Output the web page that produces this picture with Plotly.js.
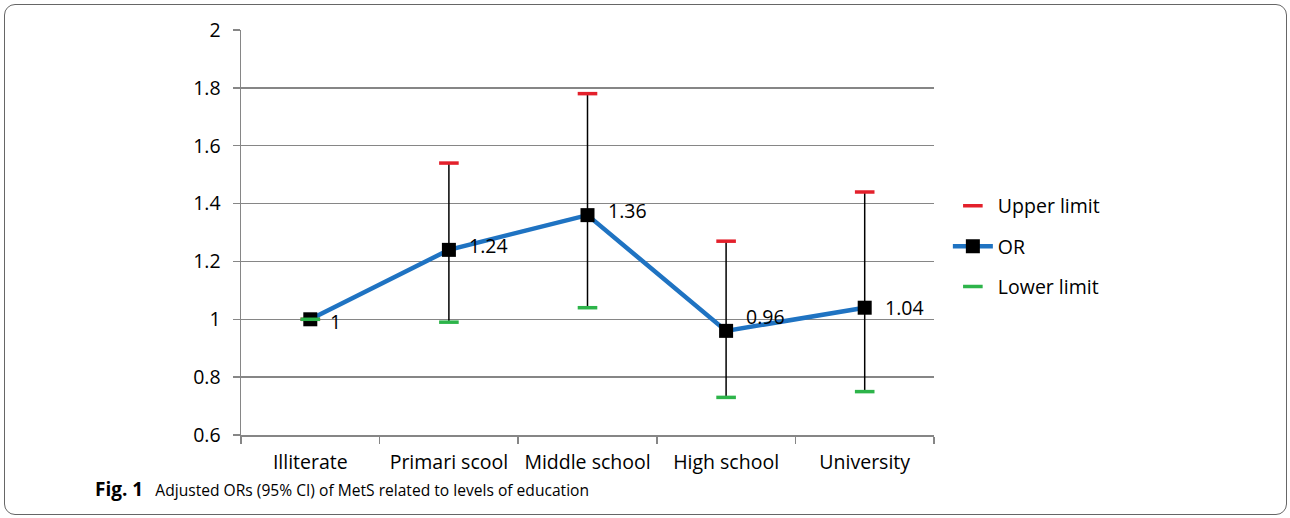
<!DOCTYPE html>
<html>
<head>
<meta charset="utf-8">
<script src="https://cdn.plot.ly/plotly-3.0.1.min.js"></script>
<style>
  html, body { margin: 0; padding: 0; background: #fff; }
  #wrap { position: relative; width: 1290px; height: 518px; }
  #frame {
    position: absolute; left: 4px; top: 4px; width: 1283px; height: 511px;
    border: 1.5px solid #666; border-radius: 11px; box-sizing: border-box;
    pointer-events: none;
  }
  #chart { position: absolute; left: 0; top: 0; width: 1290px; height: 518px; }
</style>
</head>
<body>
<div id="wrap">
  <div id="chart"></div>
  <div id="frame"></div>
</div>
<script>
// Education levels and adjusted odds ratios with 95% CI bounds
const categories = ["Illiterate", "Primari scool", "Middle school", "High school", "University"];
const orVals     = [1, 1.24, 1.36, 0.96, 1.04];
const upperVals  = [1, 1.54, 1.78, 1.27, 1.44];
const lowerVals  = [1, 0.99, 1.04, 0.73, 0.75];
const yTicks     = [0.6, 0.8, 1, 1.2, 1.4, 1.6, 1.8, 2];
// vertical offsets for the value labels (px)
const labelLift  = [-2, 4, 5, 14, 0];

const FONT = "'Open Sans', 'Noto Sans', sans-serif";
const SIZE = 19.5;

// high-low range lines, drawn underneath everything else
const rangeTrace = {
  x: categories,
  y: lowerVals,
  type: "scatter",
  mode: "markers",
  marker: { size: 1, color: "rgba(0,0,0,0)" },
  error_y: {
    type: "data",
    symmetric: false,
    array: upperVals.map((u, i) => u - lowerVals[i]),
    arrayminus: lowerVals.map(() => 0),
    color: "#000",
    thickness: 1.5,
    width: 0
  },
  showlegend: false,
  legendgroup: "u",
  hoverinfo: "skip"
};

const upperTrace = {
  x: categories,
  y: upperVals,
  name: "Upper limit",
  type: "scatter",
  mode: "markers",
  marker: { symbol: "line-ew", size: 14, line: { width: 3.5, color: "#e3202b" } },
  legendgroup: "u"
};

const orTrace = {
  x: categories,
  y: orVals,
  name: "OR",
  type: "scatter",
  mode: "lines+markers",
  line: { color: "#1f73c2", width: 4.5 },
  marker: { symbol: "square", size: 14, color: "#000" },
  legendgroup: "o"
};

const lowerTrace = {
  x: categories,
  y: lowerVals,
  name: "Lower limit",
  type: "scatter",
  mode: "markers",
  marker: { symbol: "line-ew", size: 14, line: { width: 3.5, color: "#2db44a" } },
  legendgroup: "l"
};

const valueLabels = orVals.map((v, i) => ({
  x: categories[i],
  y: v,
  xref: "x",
  yref: "y",
  text: String(v),
  showarrow: false,
  xanchor: "left",
  yanchor: "middle",
  xshift: 18,
  yshift: labelLift[i],
  font: { family: FONT, size: SIZE, color: "#000" }
}));

const layout = {
  width: 1290,
  height: 518,
  margin: { l: 241, r: 356, t: 30, b: 83 },
  paper_bgcolor: "#fff",
  plot_bgcolor: "#fff",
  font: { family: FONT, size: SIZE, color: "#000" },
  title: {
    text: "<span style='font-size:19px'><b>Fig. 1</b></span>   Adjusted ORs (95% CI) of MetS related to levels of education",
    xref: "container",
    yref: "container",
    x: 95 / 1290,
    xanchor: "left",
    y: 1 - 491 / 518,
    yanchor: "middle",
    font: { family: FONT, size: 15.6, color: "#000" }
  },
  xaxis: {
    type: "category",
    range: [-0.5, 4.5],
    tickson: "boundaries",
    ticks: "outside",
    ticklen: 7,
    tickwidth: 1.5,
    tickcolor: "#868686",
    showline: true,
    linecolor: "#868686",
    linewidth: 1.5,
    showgrid: false,
    zeroline: false,
    ticklabelstandoff: 9,
    tickfont: { family: FONT, size: SIZE, color: "#000" },
    fixedrange: true
  },
  yaxis: {
    range: [0.6, 2],
    tickvals: yTicks,
    ticktext: yTicks.map(String),
    ticks: "outside",
    ticklen: 7,
    tickwidth: 1.5,
    tickcolor: "#868686",
    showline: true,
    linecolor: "#868686",
    linewidth: 1.5,
    showgrid: true,
    gridcolor: "#868686",
    gridwidth: 1.5,
    zeroline: false,
    ticklabelstandoff: 8,
    tickfont: { family: FONT, size: SIZE, color: "#000" },
    fixedrange: true
  },
  showlegend: true,
  legend: {
    x: 1.02,
    xanchor: "left",
    y: 0.465,
    yanchor: "middle",
    bgcolor: "rgba(0,0,0,0)",
    font: { family: FONT, size: SIZE, color: "#000" },
    tracegroupgap: 12,
    itemwidth: 40
  },
  annotations: valueLabels
};

Plotly.newPlot("chart", [rangeTrace, upperTrace, orTrace, lowerTrace], layout, { displayModeBar: false, staticPlot: true });
</script>
</body>
</html>
